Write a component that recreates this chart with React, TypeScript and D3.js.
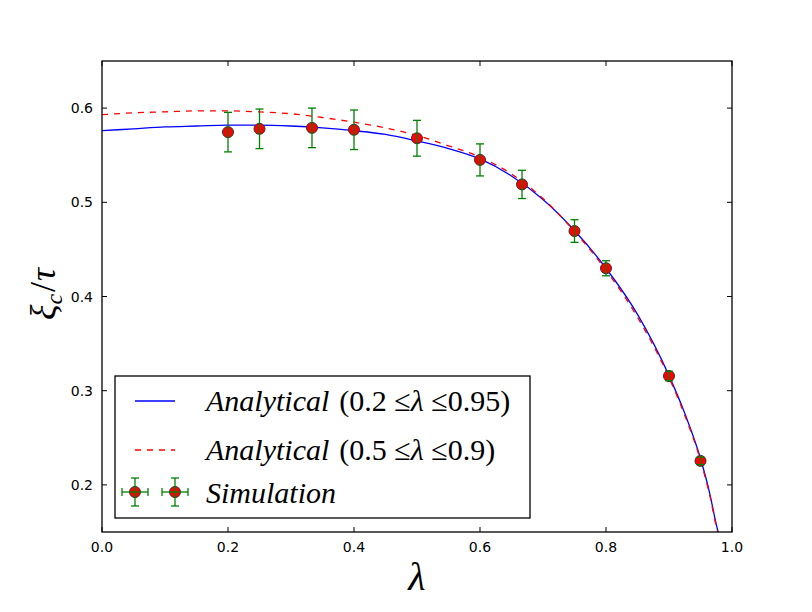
import React from "react";
import * as d3 from "d3";

const simX = [0.2, 0.25, 0.3333, 0.4, 0.5, 0.6, 0.6667, 0.75, 0.8, 0.9, 0.95];
const simY = [0.5745, 0.578, 0.579, 0.577, 0.568, 0.545, 0.519, 0.4695, 0.43, 0.3156, 0.2255];
const simErr = [0.021, 0.021, 0.021, 0.021, 0.019, 0.017, 0.015, 0.012, 0.008, 0.005, 0.004];

const lineX = [0, 0.05, 0.1, 0.15, 0.2, 0.25, 0.3, 0.35, 0.4, 0.45, 0.5, 0.55, 0.6, 0.65, 0.7, 0.75, 0.8, 0.85, 0.9, 0.925, 0.95, 0.965, 0.975, 0.98];
const blueY = [0.576, 0.578, 0.58, 0.581, 0.582, 0.582, 0.581, 0.579, 0.576, 0.572, 0.565, 0.557, 0.546, 0.528, 0.503, 0.47, 0.43, 0.381, 0.316, 0.276, 0.228, 0.19, 0.158, 0.145];
const redY = [0.593, 0.595, 0.596, 0.597, 0.597, 0.596, 0.594, 0.59, 0.585, 0.579, 0.571, 0.56, 0.548, 0.53, 0.504, 0.469, 0.428, 0.378, 0.314, 0.274, 0.226, 0.188, 0.156, 0.143];

const xTicks = [0, 0.2, 0.4, 0.6, 0.8, 1.0];
const yTicks = [0.2, 0.3, 0.4, 0.5, 0.6];

const W = 812, H = 612;
const L = 102, R = 732, T = 61, B = 532;

export default function App() {
  const x = d3.scaleLinear().domain([0, 1]).range([L, R]);
  const y = d3.scaleLinear().domain([0.15, 0.65]).range([B, T]);
  const line = d3.line<number>().x((_, i) => x(lineX[i])).y((d) => y(d)).curve(d3.curveMonotoneX);
  const tickFont = { fontFamily: "DejaVu Sans", fontSize: 14 };
  const mathFont = "'Liberation Serif', 'DejaVu Serif', serif";
  const legX = 115, legY = 376, legW = 415, legH = 142;
  const rows = [401, 450, 493];
  const cap = 4;
  const drawSim = (cx: number, cy: number, e: number, key: string, xe = 0) => (
    <g key={key}>
      <circle cx={cx} cy={cy} r={5.5} fill="#ff0000" stroke="#333" strokeWidth={1} />
      <line x1={cx} x2={cx} y1={cy - e} y2={cy + e} stroke="#008000" strokeWidth={1.3} />
      <line x1={cx - cap} x2={cx + cap} y1={cy - e} y2={cy - e} stroke="#008000" strokeWidth={1.3} />
      <line x1={cx - cap} x2={cx + cap} y1={cy + e} y2={cy + e} stroke="#008000" strokeWidth={1.3} />
      {xe > 0 && (
        <>
          <line x1={cx - xe} x2={cx + xe} y1={cy} y2={cy} stroke="#008000" strokeWidth={1.3} />
          <line x1={cx - xe} x2={cx - xe} y1={cy - cap} y2={cy + cap} stroke="#008000" strokeWidth={1.3} />
          <line x1={cx + xe} x2={cx + xe} y1={cy - cap} y2={cy + cap} stroke="#008000" strokeWidth={1.3} />
        </>
      )}
    </g>
  );
  return (
    <svg width={W} height={H} style={{ position: "absolute", left: 0, top: 0 }}>
      <rect x={0} y={0} width={W} height={H} fill="#fff" />
      <defs>
        <clipPath id="plot">
          <rect x={L} y={T} width={R - L} height={B - T} />
        </clipPath>
      </defs>
      <g clipPath="url(#plot)">
        <path d={line(blueY) || ""} fill="none" stroke="#0000ff" strokeWidth={1.3} />
        <path d={line(redY) || ""} fill="none" stroke="#ff0000" strokeWidth={1.3} strokeDasharray="6,6" />
        {simX.map((v, i) => drawSim(x(v), y(simY[i]), y(simY[i] - simErr[i]) - y(simY[i]), "s" + i))}
      </g>
      <rect x={L} y={T} width={R - L} height={B - T} fill="none" stroke="#000" strokeWidth={1.3} />
      {xTicks.map((t) => (
        <g key={"x" + t}>
          <line x1={x(t)} x2={x(t)} y1={B} y2={B - 5} stroke="#000" />
          <line x1={x(t)} x2={x(t)} y1={T} y2={T + 5} stroke="#000" />
          <text x={x(t)} y={552} textAnchor="middle" {...tickFont}>{t.toFixed(1)}</text>
        </g>
      ))}
      {yTicks.map((t) => (
        <g key={"y" + t}>
          <line x1={L} x2={L + 5} y1={y(t)} y2={y(t)} stroke="#000" />
          <line x1={R} x2={R - 5} y1={y(t)} y2={y(t)} stroke="#000" />
          <text x={93} y={y(t) + 5} textAnchor="end" {...tickFont}>{t.toFixed(1)}</text>
        </g>
      ))}
      <text x={417} y={590} textAnchor="middle" fontFamily={mathFont} fontStyle="italic" fontSize={40}>λ</text>
      <g transform="translate(55,294) rotate(-90)">
        <text x={0} y={0} textAnchor="middle" fontFamily={mathFont} fontSize={36}>
          <tspan fontStyle="italic">ξ</tspan>
          <tspan fontStyle="italic" fontSize={24} dy={7}>c</tspan>
          <tspan dy={-7} dx={2}>/</tspan>
          <tspan fontStyle="italic" dx={1}>τ</tspan>
        </text>
      </g>
      <rect x={legX} y={legY} width={legW} height={legH} fill="#fff" stroke="#000" strokeWidth={1.3} />
      <line x1={135} x2={175} y1={rows[0]} y2={rows[0]} stroke="#0000ff" strokeWidth={1.3} />
      <line x1={135} x2={175} y1={rows[1]} y2={rows[1]} stroke="#ff0000" strokeWidth={1.3} strokeDasharray="6,6" />
      {drawSim(135, rows[2] - 1, 14, "l1", 13)}
      {drawSim(175, rows[2] - 1, 14, "l2", 13)}
      <text x={206} y={rows[0] + 10} fontFamily={mathFont} fontSize={30}>
        <tspan fontStyle="italic">Analytical</tspan>
        <tspan dx={10}>(0.2 ≤</tspan>
        <tspan fontStyle="italic">λ</tspan>
        <tspan> ≤0.95)</tspan>
      </text>
      <text x={206} y={rows[1] + 10} fontFamily={mathFont} fontSize={30}>
        <tspan fontStyle="italic">Analytical</tspan>
        <tspan dx={10}>(0.5 ≤</tspan>
        <tspan fontStyle="italic">λ</tspan>
        <tspan> ≤0.9)</tspan>
      </text>
      <text x={206} y={rows[2] + 10} fontFamily={mathFont} fontSize={30} fontStyle="italic">Simulation</text>
    </svg>
  );
}
